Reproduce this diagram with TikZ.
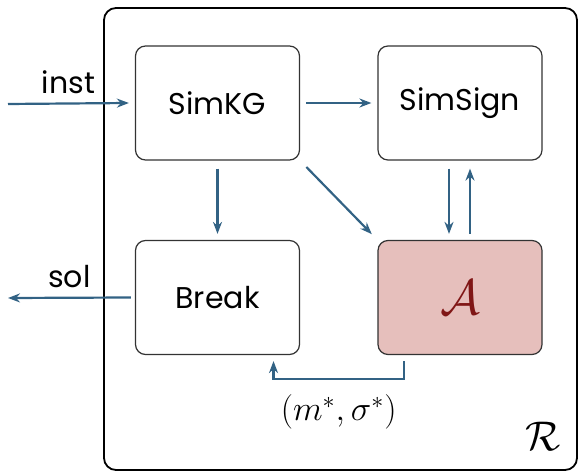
\documentclass[tikz,border=0pt]{standalone}
\usepackage{fontspec}
\setmainfont{Poppins}
\usetikzlibrary{arrows.meta}
\definecolor{flowblue}{RGB}{50,98,132}
\definecolor{algofill}{RGB}{230,191,188}
\definecolor{algored}{RGB}{128,22,22}
\tikzset{
  box/.style={draw=black!80, line width=0.6pt, rounded corners=5pt, minimum width=82pt, minimum height=57pt, font=\fontsize{15}{18}\selectfont},
  flow/.style={draw=flowblue, line width=1.1pt, -{Stealth[length=6pt,width=4.5pt]}}
}
\begin{document}
\begin{tikzpicture}[x=0.5pt,y=-0.5pt]
\useasboundingbox (0,0) rectangle (581,474);
\draw[line width=0.9pt, rounded corners=6pt] (104,8) rectangle (577,470);
\node[box] (kg) at (217.5,103) {SimKG};
\node[box] (sign) at (460,103) {SimSign};
\node[box] (brk) at (217.5,297.5) {Break};
\node[box, fill=algofill] (alg) at (460,297.5) {\fontsize{30}{34}\selectfont$\color{algored}\mathcal{A}$};
\coordinate (in) at (8,104);
\coordinate (out) at (8,298);
\draw[flow] (in) -- node[above=1pt, font=\fontsize{15}{18}\selectfont] {inst} ([xshift=-3pt]kg.west);
\draw[flow] ([xshift=-2pt]brk.west) -- node[above=1pt, font=\fontsize{15}{18}\selectfont] {sol} (out);
\draw[flow, shorten <=3pt, shorten >=3pt] (kg.east) -- (sign.west);
\draw[flow, shorten <=4pt, shorten >=3pt] (kg.south) -- (brk.north);
\draw[flow, shorten <=4.5pt, shorten >=4pt] (kg.south east) -- (alg.north west);
\draw[flow, shorten <=4pt, shorten >=3pt] ([xshift=-5.5pt]sign.south) -- ([xshift=-5.5pt]alg.north);
\draw[flow, shorten <=3pt, shorten >=4pt] ([xshift=5pt]alg.north) -- ([xshift=5pt]sign.south);
\draw[flow, shorten <=3pt, shorten >=3pt] ([xshift=-28pt]alg.south) -- ++(0,24) -| node[pos=0.25, below=4pt, font=\fontsize{17}{20}\selectfont] {$(m^*,\sigma^*)$} ([xshift=28pt]brk.south);
\node[font=\fontsize{20}{24}\selectfont] (rho) at (543,436) {$\mathcal{R}$};
\end{tikzpicture}
\end{document}
